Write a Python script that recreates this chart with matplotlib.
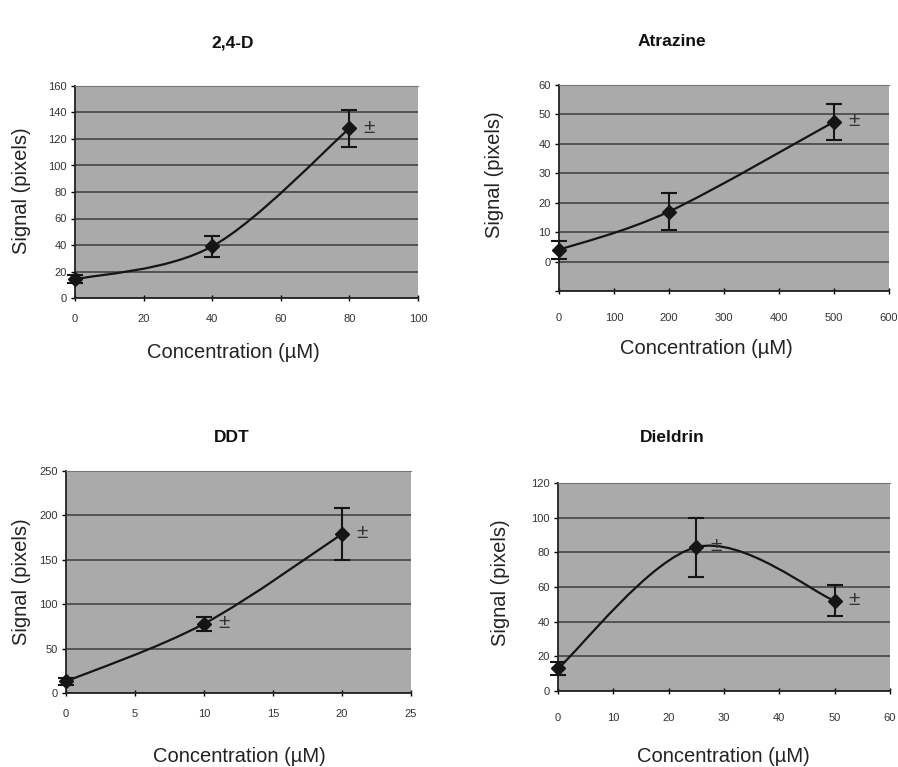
import matplotlib
matplotlib.use('Agg')
import matplotlib.pyplot as plt
from matplotlib.path import Path
from matplotlib.patches import PathPatch

plt.rcParams['font.family'] = ['Liberation Sans', 'DejaVu Sans']

# data
d24_x = [0, 40, 80]
d24_y = [14, 39, 128]
d24_err = [3, 8, 14]
d24_pm = [80]

atr_x = [0, 200, 500]
atr_y = [4, 17, 47.5]
atr_err = [3, 6.4, 6.2]
atr_pm = [500]

ddt_x = [0, 10, 20]
ddt_y = [13, 78, 179]
ddt_err = [4, 8, 29]
ddt_pm = [10, 20]

die_x = [0, 25, 50]
die_y = [13, 83, 52]
die_err = [4, 17, 9]
die_pm = [25, 50]

d24_xticks = [0, 20, 40, 60, 80, 100]
d24_yticks = [0, 20, 40, 60, 80, 100, 120, 140, 160]
atr_xticks = [0, 100, 200, 300, 400, 500, 600]
atr_yticks = [-10, 0, 10, 20, 30, 40, 50, 60]
atr_ylabels = ['', '0', '10', '20', '30', '40', '50', '60']
ddt_xticks = [0, 5, 10, 15, 20, 25]
ddt_yticks = [0, 50, 100, 150, 200, 250]
die_xticks = [0, 10, 20, 30, 40, 50, 60]
die_yticks = [0, 20, 40, 60, 80, 100, 120]


def smooth_line(ax, xs, ys):
    # Excel style smoothed line: cubic bezier segments with catmull-rom handles
    n = len(xs)
    verts = [(xs[0], ys[0])]
    codes = [Path.MOVETO]
    for i in range(n - 1):
        xp, yp = (xs[i - 1], ys[i - 1]) if i > 0 else (xs[i], ys[i])
        xn, yn = (xs[i + 2], ys[i + 2]) if i + 2 < n else (xs[i + 1], ys[i + 1])
        c1 = (xs[i] + (xs[i + 1] - xp) / 6, ys[i] + (ys[i + 1] - yp) / 6)
        c2 = (xs[i + 1] - (xn - xs[i]) / 6, ys[i + 1] - (yn - ys[i]) / 6)
        verts += [c1, c2, (xs[i + 1], ys[i + 1])]
        codes += [Path.CURVE4] * 3
    ax.add_patch(PathPatch(Path(verts, codes), fill=False, ec='#151515',
                           lw=1.6, zorder=3))


def panel(rect, title, title_xy, xs, ys, err, pm, xticks, yticks, ylabels,
          xlim, ylim, xlabel_xy, ylabel_xy, pad):
    ax = fig.add_axes(rect)
    ax.set_facecolor('#aaaaaa')
    ax.set_xlim(*xlim)
    ax.set_ylim(*ylim)
    ax.set_xticks(xticks)
    ax.set_yticks(yticks)
    if ylabels is not None:
        ax.set_yticklabels(ylabels)
    ax.yaxis.grid(True, color='#444444', lw=1.2)
    ax.set_axisbelow(True)
    for s in ['left', 'bottom']:
        ax.spines[s].set_color('#222222')
        ax.spines[s].set_linewidth(1.3)
    ax.spines['top'].set_color('#777777')
    ax.spines['top'].set_linewidth(0.8)
    ax.spines['right'].set_visible(False)
    ax.tick_params(axis='x', direction='inout', length=5, width=1,
                   labelsize=8, labelcolor='#333333', pad=pad)
    ax.tick_params(axis='y', direction='out', length=3, width=1,
                   labelsize=8, labelcolor='#333333', pad=3)

    smooth_line(ax, xs, ys)
    ax.errorbar(xs, ys, yerr=err, fmt='none', ecolor='#151515',
                elinewidth=1.5, capsize=6, capthick=1.5, zorder=4,
                clip_on=False)
    ax.plot(xs, ys, 'D', color='#151515', ms=7, zorder=5, clip_on=False)
    for x, y in zip(xs, ys):
        if x in pm:
            ax.annotate('±', (x, y), xytext=(10, 1), textcoords='offset points',
                        fontsize=15, color='#333333', va='center', ha='left')

    fig.text(title_xy[0] / 898, 1 - title_xy[1] / 767, title, fontsize=12.5,
             fontweight='bold', ha='center', va='center', color='#111111')
    fig.text(xlabel_xy[0] / 898, 1 - xlabel_xy[1] / 767, 'Concentration (µM)',
             fontsize=14.5, ha='center', va='center', color='#222222')
    fig.text(ylabel_xy[0] / 898, 1 - ylabel_xy[1] / 767, 'Signal (pixels)',
             fontsize=14.5, ha='center', va='center', rotation=90,
             color='#222222')
    return ax


fig = plt.figure(figsize=(8.98, 7.67), dpi=100)

panel([75 / 898, 1 - 298 / 767, 343 / 898, 212 / 767], '2,4-D', (233, 43),
      d24_x, d24_y, d24_err, d24_pm, d24_xticks, d24_yticks, None,
      (0, 100), (0, 160), (233, 352), (22, 191), 9)

panel([559 / 898, 1 - 291 / 767, 330 / 898, 206 / 767], 'Atrazine', (672, 42),
      atr_x, atr_y, atr_err, atr_pm, atr_xticks, atr_yticks, atr_ylabels,
      (0, 600), (-10, 60), (706, 348), (494, 175), 13)

panel([66 / 898, 1 - 693 / 767, 345 / 898, 222 / 767], 'DDT', (232, 437),
      ddt_x, ddt_y, ddt_err, ddt_pm, ddt_xticks, ddt_yticks, None,
      (0, 25), (0, 250), (239, 757), (22, 582), 9)

panel([558 / 898, 1 - 691 / 767, 332 / 898, 208 / 767], 'Dieldrin', (672, 437),
      die_x, die_y, die_err, die_pm, die_xticks, die_yticks, None,
      (0, 60), (0, 120), (723, 757), (500, 583), 13)

fig.savefig('out.png', dpi=100, facecolor='white')
